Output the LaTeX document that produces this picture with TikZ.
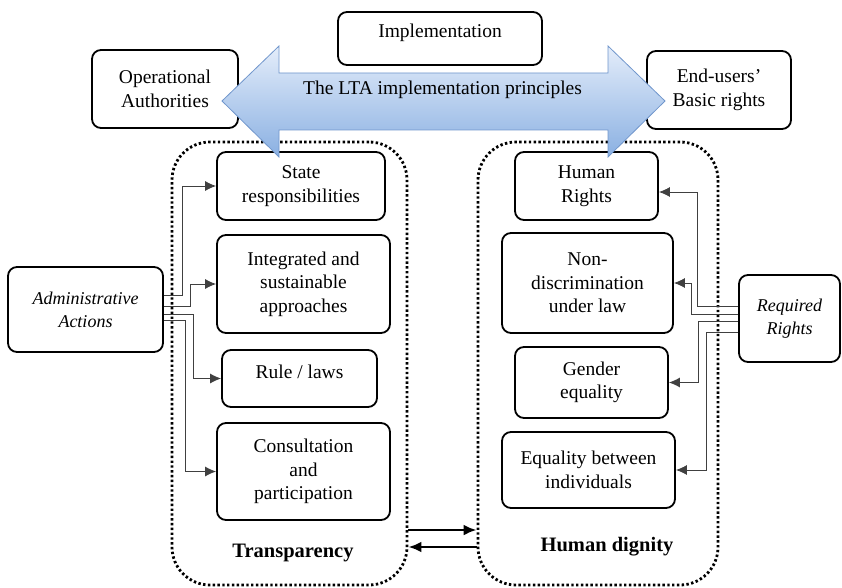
\documentclass[tikz,border=0pt]{standalone}
\usepackage{fontspec}
\setmainfont{Liberation Serif}
\usepackage{xcolor}
\usetikzlibrary{positioning}
\usetikzlibrary{arrows.meta,shapes}

\definecolor{arrowtop}{HTML}{E4EDFA}
\definecolor{arrowbot}{HTML}{8AB0E2}
\definecolor{arrowline}{HTML}{7096CC}

\newcommand{\boxfont}{\fontsize{19.5}{23.5}\selectfont}
\newcommand{\sidefont}{\fontsize{18}{23}\selectfont\itshape}
\newcommand{\capfont}{\fontsize{20.5}{24}\selectfont\bfseries}

\begin{document}
\begin{tikzpicture}[x=1pt,y=-1pt,>={Latex[length=11pt,width=10pt]},
    box/.style={draw,line width=1.8pt,rounded corners=9pt,align=center,inner sep=0pt,font=\boxfont},
    upper/.style={text height=14pt,text depth=15pt},
    group/.style={draw,line width=2.8pt,dash pattern=on 2.4pt off 2.4pt,rounded corners=38pt,inner sep=0pt},
    link/.style={->,draw=black!75,line width=0.9pt},
    toward/.style={-{Latex[length=13pt,width=11pt]},line width=2.8pt}]
   \useasboundingbox (0,0) rectangle (842,588);
   % the two groups
   \node[group,minimum width=235pt,minimum height=443pt] (trans) at (289.5,363.5) {};
   \node[group,minimum width=240pt,minimum height=443pt] (dign) at (598,363.5) {};
   \node[font=\capfont] (transtext) at (293,553) {Transparency};
   \node[font=\capfont] (digntext) at (607,547) {Human dignity};
   % top row
   \node[box,upper,minimum width=204pt,minimum height=53pt] (impl) at (440,38.5) {Implementation};
   \node[box,minimum width=146pt,minimum height=78pt] (oper) at (165,89) {Operational\\Authorities};
   \node[box,minimum width=144pt,minimum height=78pt] (endu) at (719,90) {End-users'\\Basic rights};
   % side boxes
   \node[box,font=\sidefont,minimum width=155pt,minimum height=85pt] (admin) at (85.5,309.5) {Administrative\\Actions};
   \node[box,font=\sidefont,minimum width=101pt,minimum height=87pt] (req) at (789.5,318.5) {Required\\Rights};
   % transparency
   \node[box,minimum width=168pt,minimum height=68pt] (state) at (301,186) {State\\responsibilities};
   \node[box,minimum width=173pt,minimum height=98pt] (integ) at (303.5,284) {Integrated and\\sustainable\\approaches};
   \node[box,upper,minimum width=155pt,minimum height=57pt] (rule) at (299.5,378.5) {Rule / laws};
   \node[box,minimum width=173pt,minimum height=97pt] (consult) at (303.5,471.5) {Consultation\\and\\participation};
   % human dignity
   \node[box,minimum width=143pt,minimum height=68pt] (hrights) at (586.5,186) {Human\\Rights};
   \node[box,minimum width=171pt,minimum height=100pt] (nondisc) at (587.5,283) {Non-\\discrimination\\under law};
   \node[box,minimum width=153pt,minimum height=71pt] (gender) at (591.5,382.5) {Gender\\equality};
   \node[box,minimum width=173pt,minimum height=76pt] (equal) at (588.5,470) {Equality between\\individuals};
   % connectors
   \draw[link] ([yshift=14.5pt]admin.east) -- ++(19,0) |- (state);
   \draw[link] ([yshift=3.5pt]admin.east) -- ++(27,0) |- (integ);
   \draw[link] ([yshift=-4.5pt]admin.east) -- ++(30,0) |- (rule);
   \draw[link] ([yshift=-10.5pt]admin.east) -- ++(22,0) |- (consult);
   \draw[link] ([yshift=12.5pt]req.west) -- ++(-41,0) |- ([yshift=-6pt]hrights.east);
   \draw[link] ([yshift=4.5pt]req.west) -- ++(-47,0) |- (nondisc);
   \draw[link] ([yshift=-2.5pt]req.west) -- ++(-40,0) |- (gender);
   \draw[link] ([yshift=-13.5pt]req.west) -- ++(-32,0) |- (equal);
   \draw[toward] ([yshift=-166.5pt]trans.east) -- ([yshift=-166.5pt]dign.west);
   \draw[toward] ([yshift=-183.5pt]dign.west) -- ([yshift=-183.5pt]trans.east);
   % big double arrow
   \draw[arrowline,line width=0.8pt,top color=arrowtop,bottom color=arrowbot]
     (222,101) -- (279,46) -- (279,73) -- (608,73) -- (608,46) -- (665,101)
     -- (608,157) -- (608,130) -- (279,130) -- (279,157) -- cycle;
   \node[font=\boxfont] (lta) at (442.5,90) {The LTA implementation principles};
\end{tikzpicture}
\end{document}
